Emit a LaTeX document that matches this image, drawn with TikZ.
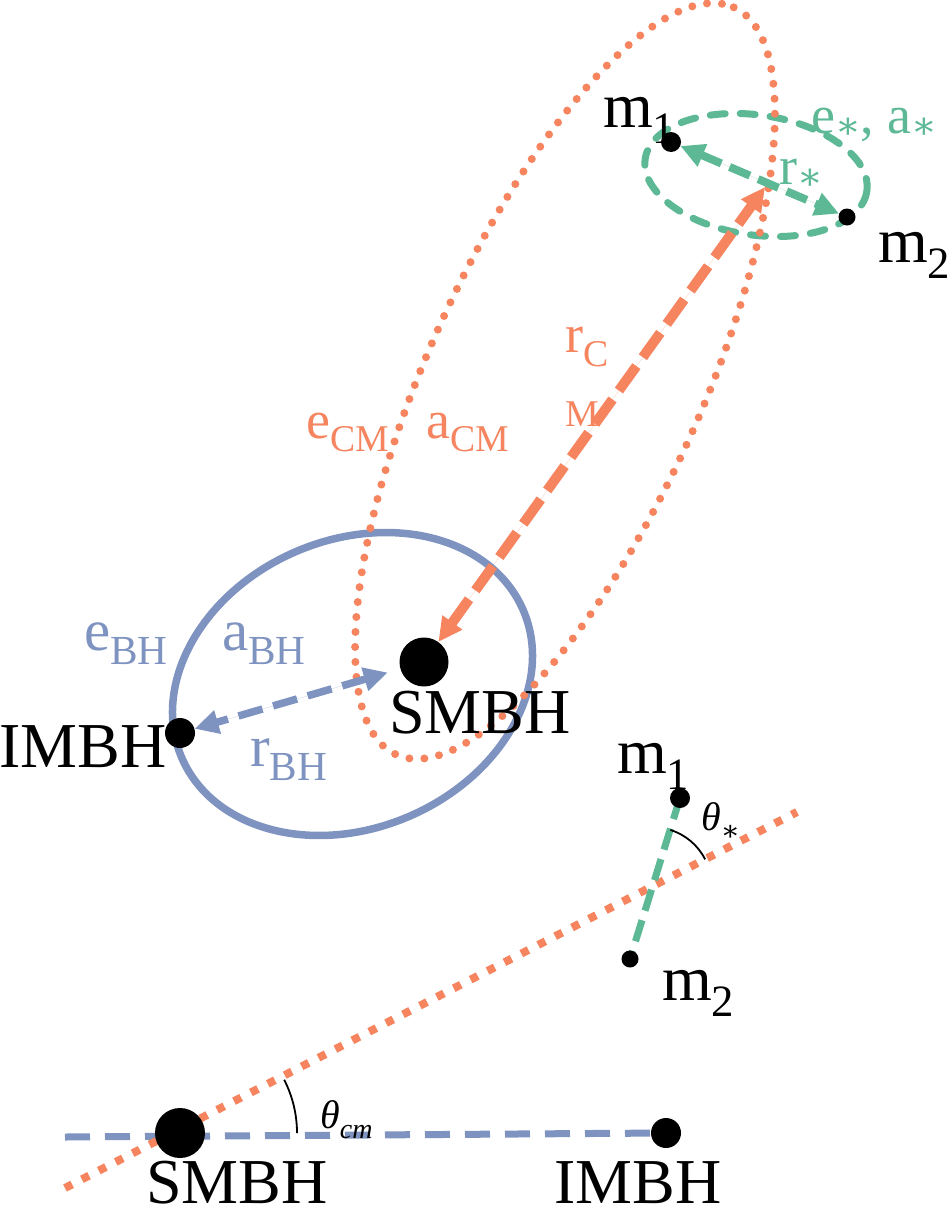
\documentclass[tikz,border=0pt]{standalone}
\usepackage{fontspec}
\setmainfont{Liberation Serif}
\newfontfamily\starfont{DejaVu Serif}
\usetikzlibrary{arrows.meta,calc,backgrounds}

\newcommand{\subtxt}[1]{\raisebox{-0.25em}{\scalebox{0.7}{#1}}}
\newcommand{\substar}{\raisebox{-0.1em}{\scalebox{0.7}{\starfont ∗}}}

\begin{document}
\begin{tikzpicture}[
    x=1pt,
    y=-1pt,
    >={Triangle[length=24pt,width=23pt]},
    hole/.style={circle, fill=black, inner sep=0pt},
    lab/.style={inner sep=0pt, anchor=base west, font=\fontsize{54}{60}\selectfont},
    bhlab/.style={lab, text=bhblue, font=\fontsize{59}{64}\selectfont},
    objlab/.style={inner sep=0pt, anchor=base west, font=\fontsize{64}{70}\selectfont},
    anglab/.style={inner sep=0pt, anchor=base west, font=\fontsize{40}{44}\selectfont\itshape},
    bhorbit/.style={draw=bhblue, line width=7.5pt},
    cmorbit/.style={draw=cmorange, line width=8pt, line cap=round, dash pattern=on 0pt off 15pt},
    starorbit/.style={draw=stargreen, line width=7pt, line cap=round, dash pattern=on 15pt off 15pt},
    bhsep/.style={draw=bhblue, fill=bhblue, line width=7.5pt, dash pattern=on 25pt off 11pt, <->},
    cmsep/.style={draw=cmorange, fill=cmorange, line width=10pt, dash pattern=on 30pt off 11pt, <->},
    starsep/.style={draw=stargreen, fill=stargreen, line width=8pt, dash pattern=on 22pt off 9pt, <->},
    bhaxis/.style={draw=bhblue, line width=7pt, dash pattern=on 25pt off 15pt},
    cmaxis/.style={draw=cmorange, line width=8pt, dash pattern=on 8pt off 11pt},
    staraxis/.style={draw=stargreen, line width=7pt, dash pattern=on 22pt off 10pt},
    angarc/.style={draw=black, line width=1.8pt}
]

\definecolor{bhblue}{HTML}{7F93C0}
\definecolor{cmorange}{HTML}{F5845F}
\definecolor{stargreen}{HTML}{5DB995}

\useasboundingbox (0,0) rectangle (950,1218);

% Upper panel: orbits of the three bodies
\node[hole, minimum size=49pt] (smbhA) at (424,662) {};
\node[hole, minimum size=30pt] (imbhA) at (180,733) {};
\node[hole, minimum size=20pt] (ma) at (671,142) {};
\node[hole, minimum size=17pt] (mb) at (847,217) {};
\coordinate (bcm) at (765,187);

\node[objlab] (smbhAlab) at (389,733) {SMBH};
\node[objlab] (imbhAlab) at (-1,767) {IMBH};
\node[objlab] (malab) at (603,127) {m\subtxt{1}};
\node[objlab] (mblab) at (878,262) {m\subtxt{2}};

\node[bhlab] (ebh) at (84,650) {e\subtxt{BH}};
\node[bhlab] (abh) at (222,650) {a\subtxt{BH}};
\node[bhlab] (rbh) at (250,766) {r\subtxt{BH}};
\node[lab, text=cmorange] (ecm) at (306,438) {e\subtxt{CM}};
\node[lab, text=cmorange] (acm) at (426,438) {a\subtxt{CM}};
\node[lab, text=cmorange, anchor=center, align=left] (rcm) at (587,377) {r\subtxt{C}\\\subtxt{M}};
\node[lab, text=stargreen] (eastar) at (811,133) {e\substar, a\substar};
\node[lab, text=stargreen] (rstar) at (779,184) {r\substar};

% Lower panel: orientation angles
\node[hole, minimum size=50pt] (smbhB) at (180,1133) {};
\node[hole, minimum size=30pt] (imbhB) at (666,1133) {};
\node[hole, minimum size=20pt] (mc) at (680,798) {};
\node[hole, minimum size=17pt] (md) at (630,959) {};
\coordinate (bhL) at (65,1137);
\coordinate (cmL) at (65,1188);
\coordinate (cmR) at (797,812);
\coordinate (cross) at (intersection of mc--md and cmL--cmR);

\node[objlab] (smbhBlab) at (146,1203) {SMBH};
\node[objlab] (imbhBlab) at (554,1203) {IMBH};
\node[objlab] (mclab) at (617,773) {m\subtxt{1}};
\node[objlab] (mdlab) at (662,1000) {m\subtxt{2}};
\node[anglab] (thstar) at (701,830) {θ\subtxt{\upshape\starfont ∗}};
\node[anglab] (thcm) at (320,1128) {θ\subtxt{cm}};

\begin{scope}[on background layer]
    \draw[bhorbit, rotate around={23.5:(352.5,684)}] (352.5,684) ellipse [x radius=186, y radius=144];
    \draw[starorbit, rotate around={-8.3:(756,175)}] (756,175) ellipse [x radius=112, y radius=60];
    \draw[cmorbit, rotate around={65.7:(565,381)}] (565,381) ellipse [x radius=410, y radius=137];

    \draw[bhsep, shorten <=13pt] (smbhA) -- (imbhA);
    \draw[cmsep] (smbhA) -- (bcm);
    \draw[starsep] (ma) -- (mb);

    \draw[bhaxis] (bhL) -- (imbhB.center);
    \draw[cmaxis] (cmL) -- (cmR);
    \draw[staraxis] (mc.center) -- (md.center);

    % angle arcs
    \draw[angarc] ($(smbhB.center)+(0:117)$) arc[start angle=0, end angle=-27.1, radius=117];
    \draw[angarc] ($(cross)+(-72.6:59)$) arc[start angle=-72.6, end angle=-27.1, radius=59];
\end{scope}

\end{tikzpicture}
\end{document}
